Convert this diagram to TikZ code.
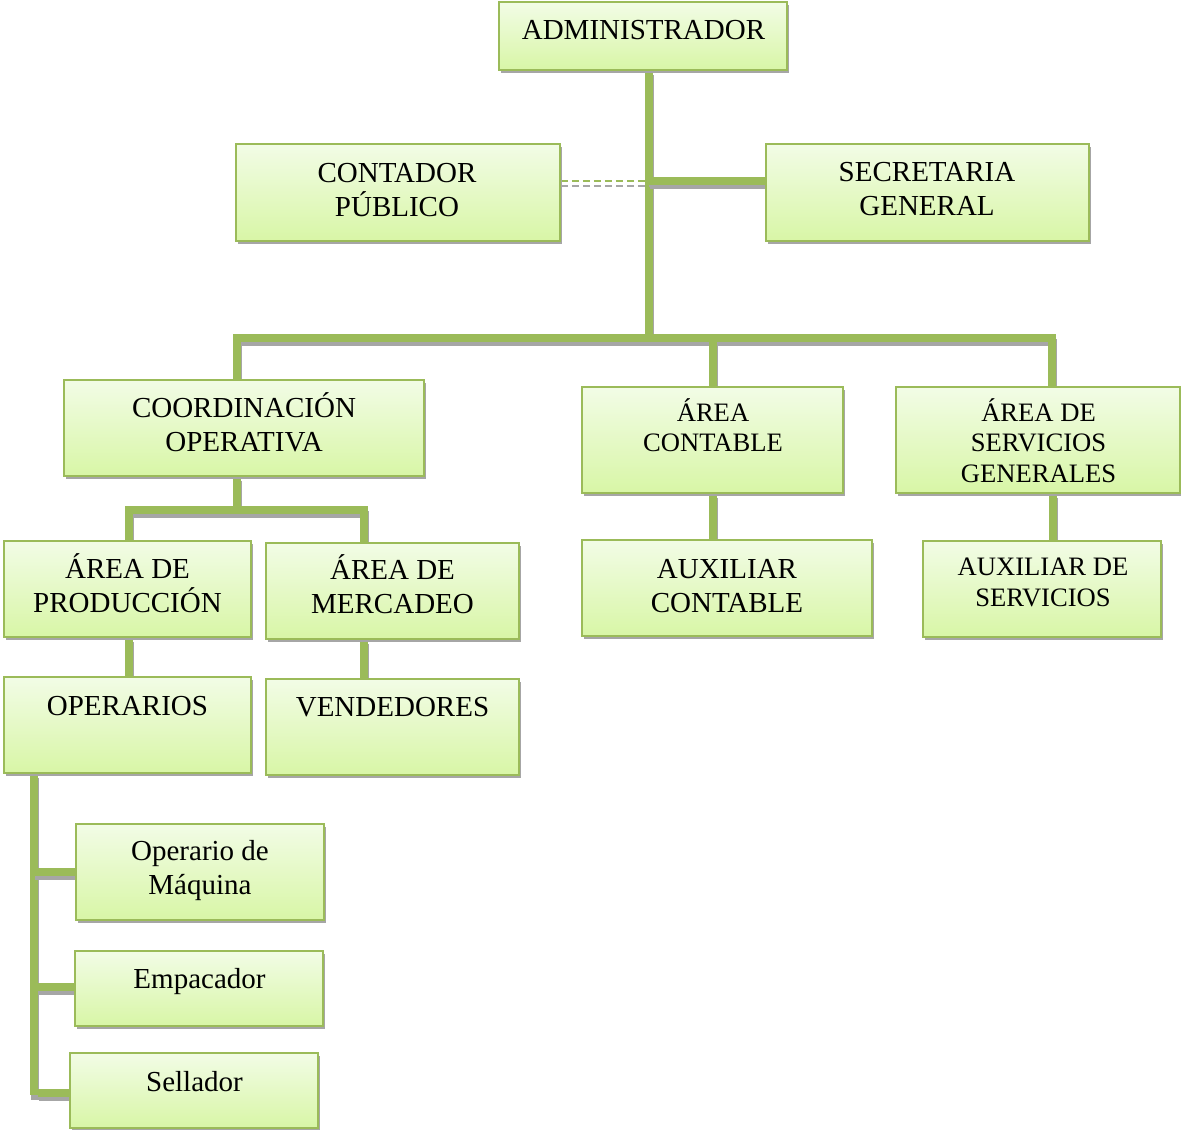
\documentclass[tikz,border=0pt]{standalone}
\usepackage{fontspec}
\setmainfont{Liberation Serif}
\usetikzlibrary{shadows,backgrounds}
\definecolor{lg}{HTML}{9BBB59}
\definecolor{boxtop}{HTML}{F2FCE6}
\definecolor{boxbot}{HTML}{D8F6A6}
\definecolor{shgray}{HTML}{A6A6A6}
\tikzset{
  box/.style={draw=lg, line width=1.6pt, top color=boxtop, bottom color=boxbot,
    inner sep=0pt, drop shadow={shadow xshift=2pt, shadow yshift=-3pt, fill=shgray, opacity=1}},
  txt/.style={inner sep=0pt, align=center, font=\fontsize{29}{34}\selectfont},
  stxt/.style={inner sep=0pt, align=center, font=\fontsize{26.6}{30.5}\selectfont},
  conn/.style={draw=lg, line width=7.5pt, line join=miter,
    preaction={draw=shgray, line width=7.5pt, transform canvas={xshift=1pt, yshift=-4.5pt}}},
  dconn/.style={draw=lg, line width=1.6pt, dash pattern=on 7pt off 4pt,
    preaction={draw=shgray, line width=1.6pt, dash pattern=on 7pt off 4pt, transform canvas={yshift=-5pt}}}
}
\begin{document}
\begin{tikzpicture}[x=1pt,y=-1pt]
\useasboundingbox (0,0) rectangle (1181,1130);
% boxes
\node[box, minimum width=288pt, minimum height=68pt] (adm) at (643,36) {};
\node[box, minimum width=324pt, minimum height=97pt] (cont) at (398,192.5) {};
\node[box, minimum width=323pt, minimum height=97pt] (sec) at (927.5,192.5) {};
\node[box, minimum width=360pt, minimum height=96pt] (coord) at (244,428) {};
\node[box, minimum width=261pt, minimum height=106pt] (acont) at (712.5,440) {};
\node[box, minimum width=284pt, minimum height=106pt] (aserv) at (1038,440) {};
\node[box, minimum width=247pt, minimum height=96pt] (prod) at (127.5,589) {};
\node[box, minimum width=253pt, minimum height=96pt] (merc) at (392.5,591) {};
\node[box, minimum width=290pt, minimum height=96pt] (auxc) at (727,588) {};
\node[box, minimum width=238pt, minimum height=96pt] (auxs) at (1042,589) {};
\node[box, minimum width=247pt, minimum height=96pt] (oper) at (127.5,725) {};
\node[box, minimum width=253pt, minimum height=96pt] (vend) at (392.5,727) {};
\node[box, minimum width=248pt, minimum height=96pt] (opm) at (200,872) {};
\node[box, minimum width=248pt, minimum height=75pt] (emp) at (199,988.5) {};
\node[box, minimum width=248pt, minimum height=75pt] (sell) at (194,1090.5) {};
% texts
\node[txt] (admT) at (643.5,39) {\smash{ADMINISTRADOR}};
\node[txt] (contT) at (397,199) {\smash{CONTADOR}\\\smash{PÚBLICO}};
\node[txt] (secT) at (927,198) {\smash{SECRETARIA}\\\smash{GENERAL}};
\node[txt] (coordT) at (244,434.5) {\smash{COORDINACIÓN}\\\smash{OPERATIVA}};
\node[stxt] (acontT) at (713,436.3) {\smash{ÁREA}\\\smash{CONTABLE}};
\node[stxt] (aservT) at (1038.5,451.7) {\smash{ÁREA DE}\\\smash{SERVICIOS}\\\smash{GENERALES}};
\node[txt] (prodT) at (127.5,595) {\smash{ÁREA DE}\\\smash{PRODUCCIÓN}};
\node[txt] (mercT) at (392.5,596.3) {\smash{ÁREA DE}\\\smash{MERCADEO}};
\node[txt] (auxcT) at (727,595) {\smash{AUXILIAR}\\\smash{CONTABLE}};
\node[stxt] (auxsT) at (1043,591) {\smash{AUXILIAR DE}\\\smash{SERVICIOS}};
\node[txt] (operT) at (127.5,715) {\smash{OPERARIOS}};
\node[txt] (vendT) at (392.5,716) {\smash{VENDEDORES}};
\node[txt] (opmT) at (200,877.5) {\smash{Operario de}\\\smash{Máquina}};
\node[txt] (empT) at (199.5,988) {\smash{Empacador}};
\node[txt] (sellT) at (194.5,1091.7) {\smash{Sellador}};
% junction coordinates
\coordinate (jSec) at (649,181);
\coordinate (jBus) at (649,338);
\coordinate (bL) at (237,338);
\coordinate (bM) at (713,338);
\coordinate (bR) at (1052,338);
\coordinate (cJ) at (237,510);
\coordinate (cL) at (129,510);
\coordinate (cR) at (364,510);
\coordinate (sp) at (34,1095);
\coordinate (b1) at (34,872);
\coordinate (b2) at (38,987);
\coordinate (b3) at (38,1093);
\begin{scope}[on background layer]
\draw[conn] (adm.south -| jSec) -- (jBus);
\draw[conn] (jSec) -- (sec.west |- jSec);
\draw[dconn] (cont.east |- 0,181) -- (jSec);
\draw[conn] (coord.north -| bL) -- (bL) -- (bR) -- (aserv.north -| bR);
\draw[conn] (bM) -- (acont.north -| bM);
\draw[conn] (coord.south -| cJ) -- (cJ);
\draw[conn] (prod.north -| cL) -- (cL) -- (cR) -- (merc.north -| cR);
\draw[conn] (prod.south -| cL) -- (oper.north -| cL);
\draw[conn] (merc.south -| cR) -- (vend.north -| cR);
\draw[conn] (acont.south -| bM) -- (auxc.north -| bM);
\draw[conn] (aserv.south -| 1053,0) -- (auxs.north -| 1053,0);
\draw[conn] (oper.south -| sp) -- (sp);
\draw[conn] (b1) -- (opm.west |- b1);
\draw[conn] (b2) -- (emp.west |- b2);
\draw[conn] (b3) -- (sell.west |- b3);
\end{scope}
\end{tikzpicture}
\end{document}
